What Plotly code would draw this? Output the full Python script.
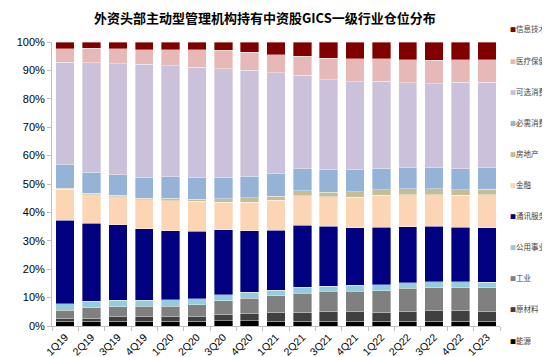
import plotly.graph_objects as go

quarters = ["1Q19", "2Q19", "3Q19", "4Q19", "1Q20", "2Q20", "3Q20", "4Q20", "1Q21",
            "2Q21", "3Q21", "4Q21", "1Q22", "2Q22", "3Q22", "4Q22", "1Q23"]

energy =        [1.6, 1.6, 1.6, 1.6, 1.6, 1.6, 1.9, 1.8, 1.7, 1.7, 1.6, 1.6, 1.6, 1.6, 1.6, 1.6, 1.6]
materials =     [1.2, 1.2, 1.6, 1.6, 1.6, 1.7, 2.0, 2.5, 3.2, 3.2, 3.4, 3.4, 3.3, 3.6, 3.7, 3.7, 3.6]
industrials =   [2.8, 3.6, 3.6, 3.8, 3.8, 4.2, 5.0, 5.4, 5.8, 6.7, 7.2, 7.3, 7.6, 8.0, 8.2, 8.2, 8.3]
utilities =     [2.3, 2.3, 2.2, 2.1, 2.2, 2.1, 2.1, 2.1, 1.9, 2.0, 1.9, 2.0, 2.1, 2.1, 2.1, 2.1, 1.9]
comm_services = [29.3, 27.4, 26.6, 25.2, 24.3, 23.8, 22.9, 21.7, 21.2, 21.9, 21.1, 20.4, 20.2, 19.7, 19.6, 19.2, 19.2]
financials =    [10.8, 10.2, 10.0, 10.2, 10.6, 10.4, 9.7, 10.1, 10.4, 10.4, 10.3, 10.7, 11.3, 11.2, 11.1, 11.3, 11.7]
real_estate =   [0.35, 0.5, 0.5, 0.6, 0.8, 0.8, 1.3, 1.6, 1.5, 1.7, 1.7, 1.9, 2.0, 2.0, 2.0, 2.0, 1.8]
staples =       [8.4, 7.4, 7.1, 7.2, 7.6, 7.7, 7.3, 7.5, 7.9, 7.8, 7.8, 7.7, 7.5, 7.4, 7.4, 7.4, 7.7]
discretionary = [35.9, 38.5, 39.2, 39.9, 39.2, 38.7, 38.5, 37.3, 35.5, 32.8, 31.8, 31.1, 30.6, 30.0, 29.7, 30.4, 30.0]
healthcare =    [4.9, 5.1, 5.2, 5.2, 5.5, 6.2, 6.5, 6.3, 6.5, 6.7, 7.5, 8.1, 8.0, 8.1, 8.2, 8.0, 7.9]
info_tech =     [2.3, 2.2, 2.4, 2.7, 2.8, 2.7, 2.9, 3.6, 4.4, 5.0, 5.8, 5.9, 5.9, 6.2, 6.5, 6.2, 6.3]

series = [
    ("能源", energy, "#000000"),
    ("原材料", materials, "#404040"),
    ("工业", industrials, "#808080"),
    ("公用事业", utilities, "#93CDDD"),
    ("通讯服务", comm_services, "#000080"),
    ("金融", financials, "#FCD5B5"),
    ("房地产", real_estate, "#C4BD97"),
    ("必需消费", staples, "#95B3D7"),
    ("可选消费", discretionary, "#CCC1DA"),
    ("医疗保健", healthcare, "#E6B9B8"),
    ("信息技术", info_tech, "#800000"),
]

W, H = 550, 357
ML, MR, MT, MB = 44, 58, 34, 39
plot_w = W - ML - MR
plot_h = H - MT - MB

fig = go.Figure()
for name, vals, color in series:
    fig.add_trace(go.Bar(
        x=quarters, y=vals, name=name, showlegend=False,
        marker=dict(color=color, line=dict(width=0.6, color="rgba(255,255,255,0.6)")),
    ))

# legend drawn as text entries (top: 信息技术 ... bottom: 能源)
legend_x_px = 500
legend_top_px = 21
legend_step_px = 31.1
for k, (name, vals, color) in enumerate(reversed(series)):
    ypx = legend_top_px + k * legend_step_px
    fig.add_annotation(
        xref="paper", yref="paper",
        x=(legend_x_px - ML) / plot_w, y=(H - MB - ypx) / plot_h,
        xanchor="left", yanchor="middle", showarrow=False,
        text=f'<span style="color:{color};font-size:6px">■</span>{name}',
        font=dict(family="Noto Sans CJK SC", size=7.5, color="#404040"),
    )

fig.update_layout(
    barmode="stack",
    barnorm="percent",
    bargap=0.3,
    width=W, height=H,
    margin=dict(l=ML, r=MR, t=MT, b=MB, autoexpand=False),
    plot_bgcolor="white", paper_bgcolor="white",
    font=dict(family="Liberation Sans, Arial, sans-serif", color="#000000", size=11),
    title=dict(
        text="<b>外资头部主动型管理机构持有中资股GICS一级行业仓位分布</b>",
        font=dict(family="Noto Sans CJK SC", size=13, color="#000000"),
        x=0.467, xanchor="center", y=0.972, yanchor="middle",
    ),
    showlegend=False,
)
fig.update_yaxes(
    range=[0, 100], dtick=10, ticksuffix="%",
    showgrid=False, showline=True, linecolor="#BFBFBF", linewidth=1,
    ticks="outside", ticklen=4, tickcolor="#BFBFBF",
    tickfont=dict(size=11, color="#000000"), zeroline=False,
)
fig.update_xaxes(
    tickangle=-45, showgrid=False, showline=True, linecolor="#BFBFBF", linewidth=1,
    ticks="outside", ticklen=4, tickcolor="#BFBFBF", tickson="boundaries",
    tickfont=dict(size=10.5, color="#000000"),
)

fig.write_html("out.html")
